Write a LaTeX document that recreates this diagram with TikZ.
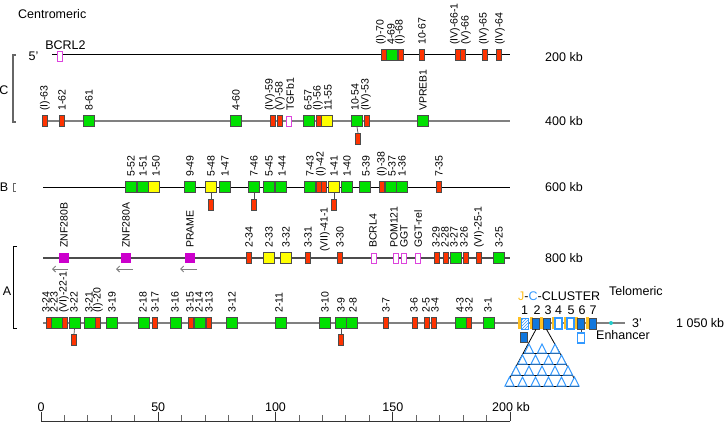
\documentclass[tikz,border=0pt]{standalone}
\usepackage{fontspec}
\setmainfont{Liberation Sans}
\usetikzlibrary{patterns,arrows.meta,calc}
\definecolor{vred}{HTML}{FF3300}
\definecolor{vgreen}{HTML}{00E000}
\definecolor{vyellow}{HTML}{FFFF00}
\definecolor{vpink}{HTML}{DD44DD}
\definecolor{vmag}{HTML}{CC00CC}
\definecolor{cblue}{HTML}{1177DD}
\definecolor{clight}{HTML}{3399FF}
\definecolor{jyel}{HTML}{FFC020}
\definecolor{enhc}{HTML}{22CCCC}
\newcommand\fsm{\fontsize{10.5}{11}\selectfont}
\newcommand\fbig{\fontsize{12.5}{14}\selectfont}
\newcommand\gn[6]{\node[#2] (#1) at (#3,#4) {}; \node[lab] (#1l) at (#5,#4-10) {#6};}
\tikzset{
 box/.style={rectangle, inner sep=0pt, line width=0.7pt, draw=black!70},
 vr/.style={box, fill=vred, minimum width=5pt, minimum height=11pt},
 vg/.style={box, fill=vgreen, minimum width=11pt, minimum height=11pt},
 vy/.style={box, fill=vyellow, minimum width=11pt, minimum height=11pt},
 pk/.style={rectangle, inner sep=0pt, draw=vpink, fill=white, line width=0.9pt, minimum width=5pt, minimum height=10pt},
 mg/.style={rectangle, inner sep=0pt, fill=vmag, minimum width=10pt, minimum height=10pt},
 cb/.style={box, fill=cblue, minimum width=7pt, minimum height=11pt},
 co/.style={rectangle, inner sep=0pt, draw=clight, fill=white, line width=1.1pt, minimum width=7pt, minimum height=11pt},
 ch/.style={rectangle, inner sep=0pt, draw=clight, line width=0.8pt, preaction={fill=white}, pattern=north east lines, pattern color=clight, minimum width=7pt, minimum height=11pt},
 jj/.style={rectangle, inner sep=0pt, fill=jyel, minimum width=3pt, minimum height=12pt},
 lab/.style={rotate=90, anchor=west, inner sep=0pt, font=\fsm, text=black},
 big/.style={inner sep=0pt, font=\fbig},
 stem/.style={black!70, line width=0.7pt},
 arr/.style={-{Straight Barb[length=3pt,width=6pt]}, gray, line width=1pt},
 tri/.style={draw=clight, fill=white, line width=1pt},
}
\begin{document}
\begin{tikzpicture}[x=1pt,y=-1pt]
\useasboundingbox (0,0) rectangle (725,425);
% backbones
\coordinate (l1s) at (52,55);  \coordinate (l1e) at (510,55);
\coordinate (l2s) at (43,121); \coordinate (l2e) at (510,121);
\coordinate (l3s) at (43,187); \coordinate (l3e) at (510,187);
\coordinate (l4s) at (43,258); \coordinate (l4e) at (510,258);
\coordinate (l5s) at (43,323); \coordinate (l5e) at (625,323);
\draw[black, line width=1pt] (l1s) -- (l1e);
\draw[gray, line width=1.4pt] (l2s) -- (l2e);
\draw[black, line width=1pt] (l3s) -- (l3e);
\draw[black!70, line width=1.2pt] (l4s) -- (l4e);
\draw[gray, line width=1.6pt] (l5s) -- (l5e);
% brackets
\draw[gray!80!black, line width=1.3pt] (16,55) -- (13,55) -- (13,122) -- (16,122);
\draw[gray!80!black, line width=1pt] (16,183) -- (13,183) -- (13,191) -- (16,191);
\draw[black, line width=1pt] (17,246) -- (13,246) -- (13,328) -- (17,328);
\node[big] (tC) at (4,90) {C};
\node[big] (tB) at (4,187) {B};
\node[big] (tA) at (7,291) {A};
% texts
\node[big, anchor=west] (cen) at (18,14) {Centromeric};
\node[big] (p5) at (33.5,56) {5'};
\node[big, anchor=west] (k200) at (545,57) {200 kb};
\node[big, anchor=west] (k400) at (545,121) {400 kb};
\node[big, anchor=west] (k600) at (545,187) {600 kb};
\node[big, anchor=west] (k800) at (545,258) {800 kb};
\node[big, anchor=west] (k1050) at (676,323) {1 050 kb};
\node[big, anchor=west] (p3) at (632,323) {3'};
\node[big, anchor=west] (tel) at (609,291) {Telomeric};
% row 1
\node[pk] (bcrl2) at (59.5,56) {};
\node[big] (bcrl2l) at (65.5,45) {BCRL2};
\gn{r1a}{vr}{384}{55}{381}{(I)-70}
\gn{r1b}{vg}{392}{55}{391}{4-69}
\gn{r1c}{vr}{401}{55}{400}{(I)-68}
\gn{r1d}{vr}{422}{55}{422}{10-67}
\gn{r1e}{vr}{457.5}{55}{455}{(IV)-66-1}
\gn{r1f}{vr}{462.5}{55}{466}{(V)-66}
\gn{r1g}{vr}{485}{55}{484}{(IV)-65}
\gn{r1h}{vr}{499}{55}{500}{(IV)-64}
% row 2
\gn{r2a}{vr}{45}{121}{45}{(I)-63}
\gn{r2b}{vr}{62}{121}{62}{1-62}
\gn{r2c}{vg}{89}{121}{89}{8-61}
\gn{r2d}{vg}{236}{121}{236}{4-60}
\gn{r2e}{vr}{273}{121}{270}{(IV)-59}
\gn{r2f}{vr}{280}{121}{280}{(V)-58}
\gn{r2g}{pk}{288.5}{121}{290}{TGFb1}
\gn{r2h}{vg}{309}{121}{308}{6-57}
\gn{r2i}{vr}{319}{121}{318}{(I)-56}
\gn{r2j}{vy}{326.5}{121}{328}{11-55}
\gn{r2k}{vg}{357}{121}{355}{10-54}
\gn{r2m}{vr}{367}{121}{366}{(IV)-53}
\gn{r2n}{vg}{423}{121}{423}{VPREB1}
\node[vr] (r2kh) at (358,139) {};
\draw[stem] (r2k.south) -- (r2kh.north);
% row 3
\gn{r3a}{vg}{131}{187}{131}{5-52}
\gn{r3b}{vg}{143}{187}{143}{1-51}
\gn{r3c}{vy}{154}{187}{156}{1-50}
\gn{r3d}{vg}{190}{187}{190}{9-49}
\gn{r3e}{vy}{211}{187}{211}{5-48}
\gn{r3f}{vg}{225}{187}{225}{1-47}
\gn{r3g}{vg}{254}{187}{254}{7-46}
\gn{r3h}{vg}{269}{187}{269}{5-45}
\gn{r3i}{vg}{281}{187}{282}{1-44}
\gn{r3j}{vg}{310}{187}{310}{7-43}
\gn{r3k}{vr}{319}{187}{321}{(I)-42}
\node[vr] (r3x) at (324,187) {};
\node[lab] (r3xl) at (325,252) {(VII)-41-1};
\gn{r3m}{vy}{334}{187}{334}{1-41}
\gn{r3n}{vg}{347}{187}{347}{1-40}
\gn{r3o}{vg}{365}{187}{366}{5-39}
\gn{r3p}{vr}{382}{187}{382}{(I)-38}
\gn{r3q}{vg}{391}{187}{392}{5-37}
\gn{r3r}{vg}{402}{187}{402}{1-36}
\gn{r3s}{vr}{439}{187}{439}{7-35}
\node[vr] (r3eh) at (211,205) {};
\node[vr] (r3gh) at (254,205) {};
\node[vr] (r3mh) at (334,205) {};
\draw[stem] (r3e.south) -- (r3eh.north);
\draw[stem] (r3g.south) -- (r3gh.north);
\draw[stem] (r3m.south) -- (r3mh.north);
% row 4
\gn{r4a}{mg}{64}{258}{64}{ZNF280B}
\gn{r4b}{mg}{126}{258}{126}{ZNF280A}
\gn{r4c}{mg}{190}{258}{190}{PRAME}
\gn{r4d}{vr}{249}{258}{249}{2-34}
\gn{r4e}{vy}{269}{258}{269}{2-33}
\gn{r4f}{vy}{286}{258}{286}{3-32}
\gn{r4g}{vr}{308}{258}{308}{3-31}
\gn{r4h}{vr}{340}{258}{340}{3-30}
\gn{r4i}{pk}{373.5}{258}{373}{BCRL4}
\gn{r4j}{pk}{396}{258}{394}{POM121}
\gn{r4k}{pk}{404}{258}{404}{GGT}
\gn{r4m}{pk}{418}{258}{418}{GGT-rel}
\gn{r4n}{vr}{437}{258}{436}{3-29}
\gn{r4o}{vr}{446}{258}{445}{2-28}
\gn{r4p}{vg}{456}{258}{454}{3-27}
\gn{r4q}{vr}{466}{258}{464}{3-26}
\gn{r4r}{vr}{479}{258}{479}{(VI)-25-1}
\gn{r4s}{vg}{499}{258}{499}{3-25}
\coordinate (a1s) at (68,269);  \coordinate (a1e) at (52,269);
\coordinate (a2s) at (133,269); \coordinate (a2e) at (116,269);
\coordinate (a3s) at (197,269); \coordinate (a3e) at (180,269);
\draw[arr] (a1s) -- (a1e);
\draw[arr] (a2s) -- (a2e);
\draw[arr] (a3s) -- (a3e);
% row 5
\gn{r5a}{vr}{49}{323}{46}{3-24}
\gn{r5b}{vg}{57}{323}{54}{2-23}
\gn{r5c}{vr}{65}{323}{64}{(VI)-22-1}
\gn{r5d}{vg}{74.5}{323}{74}{3-22}
\gn{r5e}{vg}{90}{323}{89}{3-21}
\gn{r5f}{vr}{98}{323}{98}{(I)-20}
\gn{r5g}{vg}{112}{323}{112}{3-19}
\gn{r5h}{vg}{144}{323}{143}{2-18}
\gn{r5i}{vr}{155}{323}{155}{3-17}
\gn{r5j}{vg}{176}{323}{175}{3-16}
\gn{r5k}{vr}{191}{323}{190}{3-15}
\gn{r5m}{vg}{200}{323}{199}{2-14}
\gn{r5n}{vr}{209}{323}{209}{3-13}
\gn{r5o}{vg}{232}{323}{232}{3-12}
\gn{r5p}{vg}{280.5}{323}{279}{2-11}
\gn{r5q}{vg}{325}{323}{325}{3-10}
\gn{r5r}{vg}{341}{323}{341}{3-9}
\gn{r5s}{vg}{352}{323}{353}{2-8}
\gn{r5t}{vr}{386}{323}{386}{3-7}
\gn{r5u}{vr}{415}{323}{414}{3-6}
\gn{r5v}{vr}{427}{323}{426}{2-5}
\gn{r5w}{vr}{434}{323}{435}{3-4}
\gn{r5x}{vg}{461}{323}{460}{4-3}
\gn{r5y}{vr}{469}{323}{469}{3-2}
\gn{r5z}{vg}{489}{323}{488}{3-1}
\node[vr] (r5dh) at (74,340) {};
\node[vr] (r5rh) at (341,340) {};
\draw[stem] (r5d.south) -- (r5dh.north);
\draw[stem] (r5r.south) -- (r5rh.north);
% J-C cluster
\node[jj] (j1) at (519.5,323) {};
\node[jj] (j2) at (531,323) {};
\node[jj] (j3) at (541.5,323) {};
\node[jj] (j4) at (553.5,323) {};
\node[jj] (j5) at (565.5,323) {};
\node[jj] (j6) at (576,323) {};
\node[jj] (j7) at (587.5,323) {};
\node[ch] (c1) at (524.5,323.5) {};
\node[cb] (c2) at (536,323.5) {};
\node[cb] (c3) at (546.5,323.5) {};
\node[co] (c4) at (558.5,323.5) {};
\node[co] (c5) at (570.5,323.5) {};
\node[cb] (c6) at (581,323.5) {};
\node[cb] (c7) at (592.5,323.5) {};
\node[cb, minimum height=10pt] (c1h) at (524,337) {};
\node[co, minimum height=10pt] (c6h) at (581,338) {};
\draw[stem] (c6.south) -- (c6h.north);
\node[circle, fill=enhc, inner sep=0pt, minimum size=4pt] (enh) at (611,323) {};
\node[big, anchor=west] (enhl) at (596,335) {Enhancer};
\node[big, anchor=west] (jcl) at (518,296) {\textcolor{jyel}{J}-\textcolor{clight}{C}-CLUSTER};
\node[big] (n1) at (524.5,310) {1};
\node[big] (n2) at (537,310) {2};
\node[big] (n3) at (548,310) {3};
\node[big] (n4) at (558.5,310) {4};
\node[big] (n5) at (571,310) {5};
\node[big] (n6) at (582,310) {6};
\node[big] (n7) at (593,310) {7};
% pyramid
\coordinate (pl) at (505.5,386);
\coordinate (pr) at (578.5,386);
\draw[black, line width=0.8pt] (c2.south) -- (pl);
\draw[black, line width=0.8pt] (c3.south) -- (pr);
\foreach \t in {0.421,0.614,0.807,1}{
  \draw[black, line width=0.8pt] ($(c2.south)!\t!(pl)$) -- ($(c3.south)!\t!(pr)$);
}
\foreach \r in {0,...,3}{
  \pgfmathsetmacro\yb{353+11*\r}
  \pgfmathtruncatemacro\n{\r+2}
  \foreach \k in {0,...,\n}{
    \pgfmathsetmacro\xc{542-(\r+2)*6.5+13*\k}
    \draw[tri] (\xc-4.5,\yb) -- (\xc,\yb-9) -- (\xc+4.5,\yb) -- cycle;
  }
}
% scale bar
\coordinate (s0) at (41,421);
\coordinate (s200) at (510,421);
\draw[black!80, line width=1pt] (s0) -- (s200);
\foreach \i in {0,...,20}{
  \pgfmathsetmacro\xs{41+23.45*\i}
  \pgfmathtruncatemacro\m{mod(\i,5)}
  \ifnum\m=0
    \draw[black!80, line width=0.9pt] (\xs,412) -- (\xs,421);
  \else
    \draw[black!60, line width=0.9pt] (\xs,415) -- (\xs,421);
  \fi
}
\node[big] (sl0) at (41,407) {0};
\node[big] (sl50) at (158.2,407) {50};
\node[big] (sl100) at (275.5,407) {100};
\node[big] (sl150) at (392.8,407) {150};
\node[big, anchor=west] (sl200) at (492,407) {200 kb};
\end{tikzpicture}
\end{document}
